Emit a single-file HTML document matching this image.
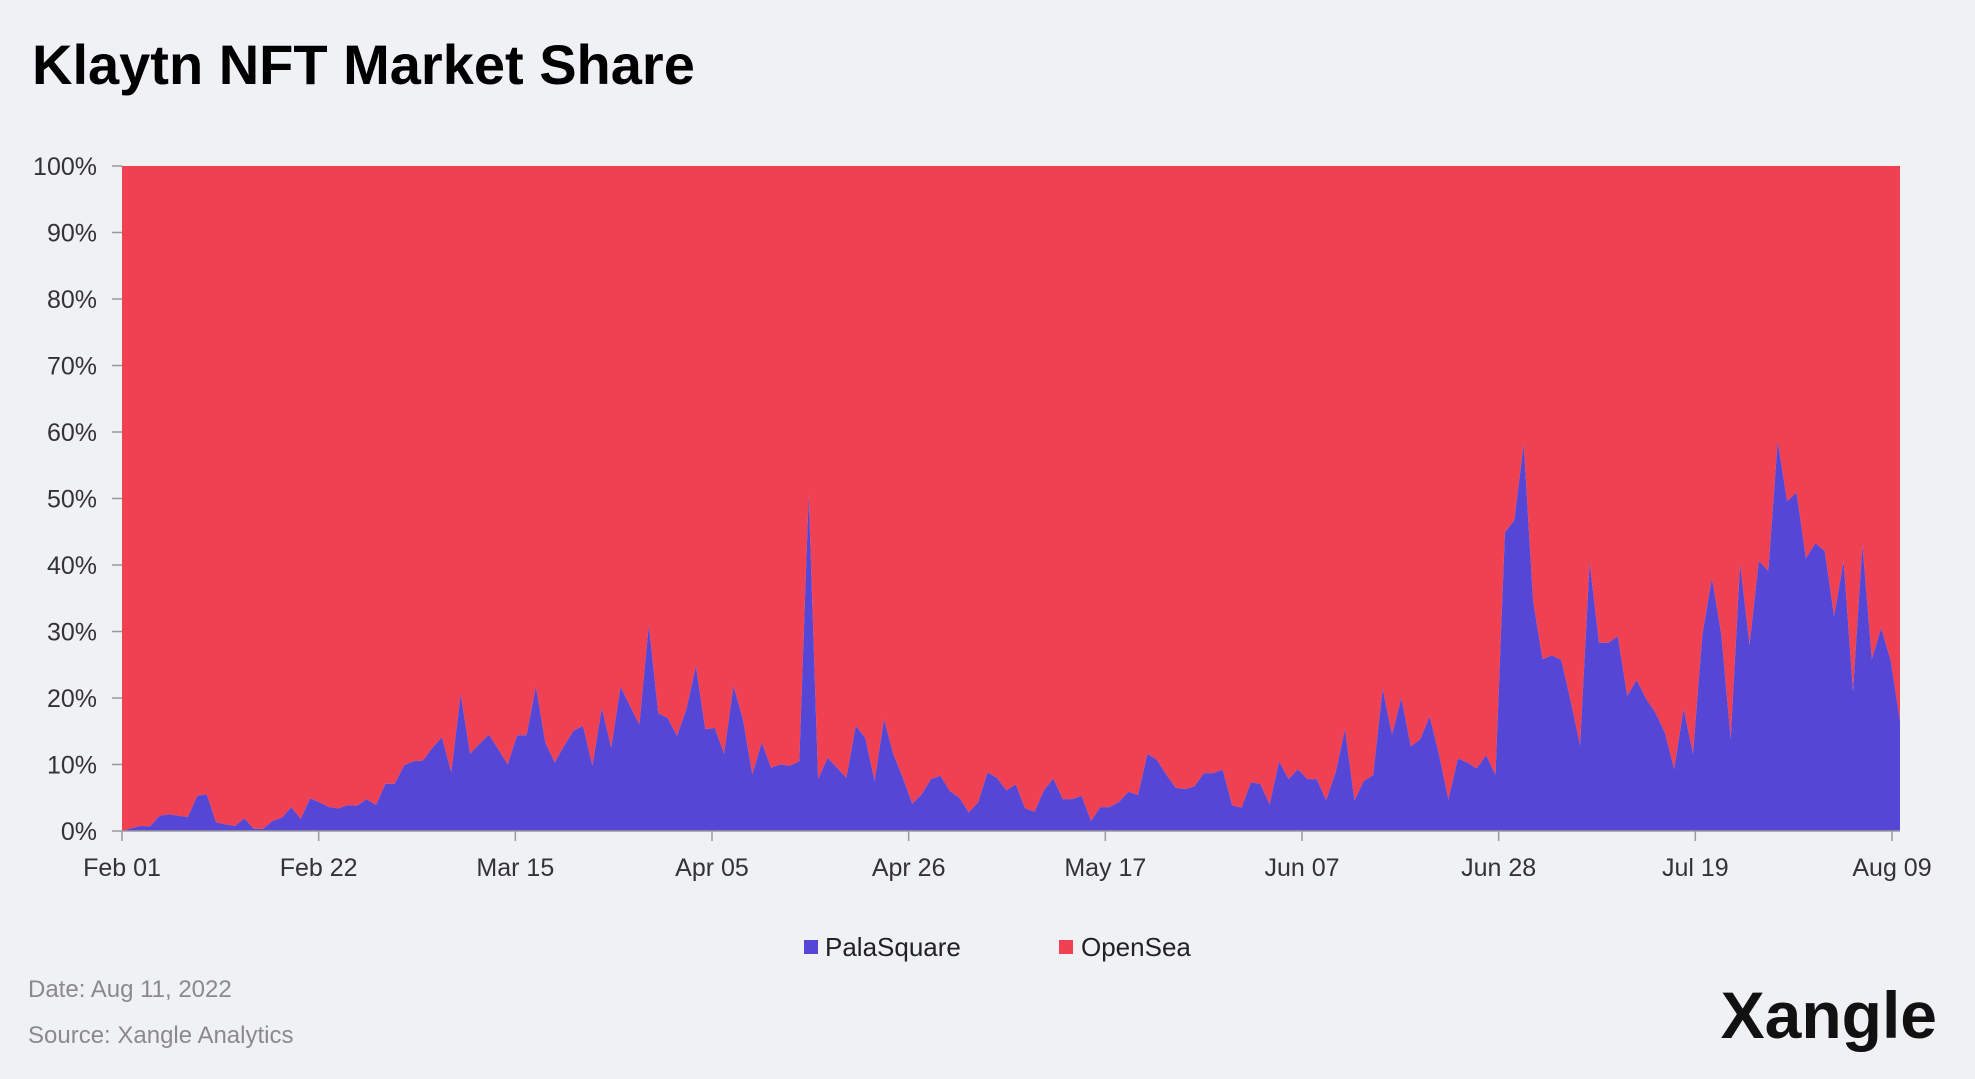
<!DOCTYPE html>
<html><head><meta charset="utf-8"><style>
html,body{margin:0;padding:0;background:#f0f1f5;}
body{width:1975px;height:1074px;overflow:hidden;font-family:"Liberation Sans",sans-serif;}
</style></head><body>
<svg id="chart" width="1975" height="1074" xmlns="http://www.w3.org/2000/svg">
<rect width="1975" height="1074" fill="#f0f1f5"/>
<text x="32" y="84" font-size="56" font-weight="bold" fill="#000">Klaytn NFT Market Share</text>
<g id="plot"></g>
<g id="axes"></g>
<g>
<rect x="804" y="940" width="14" height="14" fill="#5546d6"/>
<text x="825" y="956" font-size="26" fill="#222">PalaSquare</text>
<rect x="1059" y="940" width="14" height="14" fill="#f04152"/>
<text x="1081" y="956" font-size="26" fill="#222">OpenSea</text>
</g>
<text x="28" y="997" font-size="24" fill="#8a8a8a">Date: Aug 11, 2022</text>
<text x="28" y="1043" font-size="24" fill="#8a8a8a">Source: Xangle Analytics</text>
<text x="1937" y="1038" text-anchor="end" font-size="66" font-weight="bold" fill="#111">Xangle</text>
</svg>
<script>
const palaSquare = [0,0.4,0.75,0.7,2.3,2.5,2.3,2.1,5.3,5.5,1.3,1.0,0.75,1.9,0.35,0.35,1.5,2.0,3.6,1.8,4.9,4.3,3.6,3.4,3.9,3.8,4.8,3.9,7.1,7.1,9.9,10.5,10.6,12.5,14.1,8.8,20.6,11.6,13.1,14.5,12.3,10,14.4,14.4,21.7,13.3,10.3,12.8,15.1,15.8,9.8,18.5,12.5,21.7,18.8,16,31,17.7,17,14.3,18.3,24.8,15.3,15.5,11.6,21.8,16.8,8.5,13.3,9.5,10,9.8,10.5,50.6,7.8,11,9.5,8,15.8,14,7.5,16.8,11.5,8,4.1,5.5,7.8,8.3,6,5,2.8,4.3,8.8,8,6.1,7.0,3.4,2.9,6.1,7.9,4.8,4.8,5.3,1.5,3.6,3.6,4.4,5.9,5.4,11.6,10.7,8.5,6.5,6.3,6.7,8.7,8.7,9.2,3.9,3.5,7.3,7.1,4.0,10.5,7.8,9.3,7.8,7.8,4.6,8.8,15.3,4.6,7.5,8.4,21.4,14.5,20,12.7,13.8,17.2,11.5,4.7,10.9,10.3,9.4,11.4,8.4,44.9,46.7,58.2,34.6,25.8,26.4,25.7,19.5,12.9,40.4,28.3,28.3,29.3,20.3,22.7,19.9,17.8,14.8,9.3,18.4,11.6,29.6,38,29.6,13.8,40.2,28,40.6,39.1,58.6,49.6,50.9,41,43.3,42.1,32.3,40.6,21,43.1,25.8,30.5,25.7,16.5];
const openSea = palaSquare.map(v => 100 - v);
const xTickLabels = ["Feb 01","Feb 22","Mar 15","Apr 05","Apr 26","May 17","Jun 07","Jun 28","Jul 19","Aug 09"];
const xTickDays = [0,21,42,63,84,105,126,147,168,189];
const yTicks = [0,10,20,30,40,50,60,70,80,90,100];

const L=122,R=1900,T=166,B=831,TICK_LAST=1892;
const n=palaSquare.length;
const xs=d=>L+(R-L)*d/(n-1);
const xt=d=>L+(TICK_LAST-L)*d/189;
const ys=v=>B-(B-T)*v/100;
const NS="http://www.w3.org/2000/svg";
const plot=document.getElementById('plot');
const axes=document.getElementById('axes');

const lowerPts=palaSquare.map((v,i)=>xs(i).toFixed(1)+","+ys(v).toFixed(1));
const upperPts=openSea.map((v,i)=>xs(i).toFixed(1)+","+ys(palaSquare[i]+v).toFixed(1));
const red=document.createElementNS(NS,'polygon');
red.setAttribute('points',upperPts.join(' ')+' '+lowerPts.slice().reverse().join(' '));
red.setAttribute('fill','#f04152');


plot.appendChild(red);
const blue=document.createElementNS(NS,'polygon');
blue.setAttribute('points',L+","+B+" "+lowerPts.join(' ')+" "+R+","+B);
blue.setAttribute('fill','#5546d6');


plot.appendChild(blue);

yTicks.forEach(t=>{
  const tx=document.createElementNS(NS,'text');
  tx.setAttribute('x',97);tx.setAttribute('y',ys(t)+9);
  tx.setAttribute('text-anchor','end');tx.setAttribute('font-size','25');tx.setAttribute('fill','#333');
  tx.textContent=t+'%';
  
  
  axes.appendChild(tx);
  const tk=document.createElementNS(NS,'line');
  tk.setAttribute('x1',112);tk.setAttribute('x2',L);tk.setAttribute('y1',ys(t));tk.setAttribute('y2',ys(t));
  tk.setAttribute('stroke','#999');tk.setAttribute('stroke-width','1.5');
  
  
  axes.appendChild(tk);
});
const ax=document.createElementNS(NS,'line');
ax.setAttribute('x1',L);ax.setAttribute('x2',R);ax.setAttribute('y1',B);ax.setAttribute('y2',B);
ax.setAttribute('stroke','#999');ax.setAttribute('stroke-width','1.5');


axes.appendChild(ax);
xTickLabels.forEach((lab,i)=>{
  const x=xt(xTickDays[i]);
  const tk=document.createElementNS(NS,'line');
  tk.setAttribute('x1',x);tk.setAttribute('x2',x);tk.setAttribute('y1',B);tk.setAttribute('y2',B+10);
  tk.setAttribute('stroke','#999');tk.setAttribute('stroke-width','1.5');
  
  
  axes.appendChild(tk);
  const tx=document.createElementNS(NS,'text');
  tx.setAttribute('x',x);tx.setAttribute('y',876);
  tx.setAttribute('text-anchor','middle');tx.setAttribute('font-size','25');tx.setAttribute('fill','#333');
  tx.textContent=lab;
  
  
  axes.appendChild(tx);
});
</script>
</body></html>
